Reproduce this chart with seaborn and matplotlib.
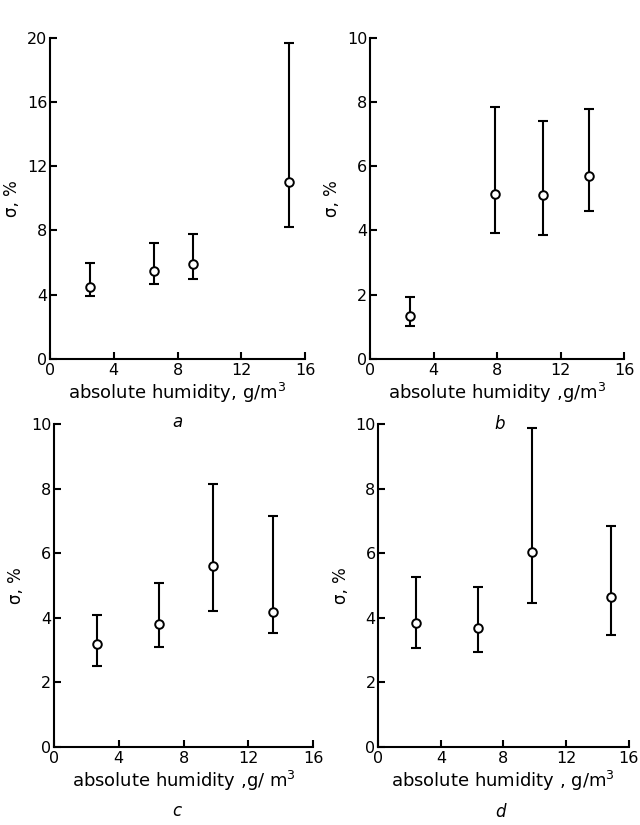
import matplotlib
matplotlib.use("Agg")
import matplotlib.pyplot as plt
import seaborn as sns
import numpy as np
import pandas as pd

# Absolute humidity (g/m^3), sigma (%) with lower / upper bounds of the spread
a_x = [2.5, 6.5, 9.0, 15.0]
a_y = [4.5, 5.5, 5.9, 11.0]
a_lo = [3.9, 4.65, 5.0, 8.2]
a_hi = [6.0, 7.2, 7.8, 19.7]

b_x = [2.55, 7.9, 10.9, 13.8]
b_y = [1.35, 5.15, 5.1, 5.7]
b_lo = [1.02, 3.92, 3.87, 4.6]
b_hi = [1.93, 7.85, 7.42, 7.77]

c_x = [2.65, 6.5, 9.85, 13.5]
c_y = [3.2, 3.8, 5.6, 4.17]
c_lo = [2.5, 3.1, 4.2, 3.54]
c_hi = [4.07, 5.09, 8.15, 7.15]

d_x = [2.4, 6.35, 9.8, 14.85]
d_y = [3.85, 3.67, 6.03, 4.65]
d_lo = [3.05, 2.95, 4.45, 3.47]
d_hi = [5.25, 4.94, 9.87, 6.85]

panel_letters = ["a", "b", "c", "d"]
x_ticks = [0, 4, 8, 12, 16]
y_ticks_a = [0, 4, 8, 12, 16, 20]
y_ticks_bcd = [0, 2, 4, 6, 8, 10]
xlabels = ["absolute humidity, g/m$^3$", "absolute humidity ,g/m$^3$",
           "absolute humidity ,g/ m$^3$", "absolute humidity , g/m$^3$"]
ylabel = "σ, %"

sns.set_theme(style="ticks")
plt.rcParams["font.family"] = ["DejaVu Sans"]
plt.rcParams["text.color"] = "black"

fig = plt.figure(figsize=(6.4, 8.25), dpi=100)
W, H = 640, 825
boxes = [  # left, top, right, bottom in pixels
    (50, 37.7, 305, 359),
    (370, 37.7, 624, 359),
    (54, 424.3, 313, 746.7),
    (378.3, 424.3, 628.5, 746.7),
]
letter_pos = [(177, 422), (500, 424), (177, 811), (500, 812)]

panels = [
    (a_x, a_y, a_lo, a_hi, y_ticks_a),
    (b_x, b_y, b_lo, b_hi, y_ticks_bcd),
    (c_x, c_y, c_lo, c_hi, y_ticks_bcd),
    (d_x, d_y, d_lo, d_hi, y_ticks_bcd),
]

for i, ((xs, ys, lo, hi, yt), (l, t, r, b)) in enumerate(zip(panels, boxes)):
    ax = fig.add_axes([l / W, 1 - b / H, (r - l) / W, (b - t) / H])
    df = pd.DataFrame({"h": xs, "s": ys, "lo": lo, "hi": hi})
    yerr = np.vstack([df["s"] - df["lo"], df["hi"] - df["s"]])
    ax.errorbar(df["h"], df["s"], yerr=yerr, fmt="none", ecolor="black",
                elinewidth=1.5, capsize=3.5, capthick=1.5, zorder=2)
    sns.scatterplot(data=df, x="h", y="s", ax=ax, marker="o", s=38,
                    facecolor="white", edgecolor="black", linewidth=1.4,
                    zorder=3, clip_on=False)
    ax.set_xlim(0, 16)
    ax.set_ylim(0, yt[-1])
    ax.set_xticks(x_ticks)
    ax.set_yticks(yt)
    ax.set_xticklabels([str(v) for v in x_ticks])
    ax.set_yticklabels([str(v) for v in yt])
    sns.despine(ax=ax)
    for s in ("left", "bottom"):
        ax.spines[s].set_linewidth(1.5)
        ax.spines[s].set_color("black")
    ax.tick_params(direction="in", length=5, width=1.5, color="black",
                   labelsize=11.5, labelcolor="black")
    ax.tick_params(axis="y", pad=2)
    ax.tick_params(axis="x", pad=3)
    ax.set_xlabel(xlabels[i], fontsize=13, color="black", labelpad=2)
    ax.set_ylabel(ylabel, fontsize=12, color="black", labelpad=4)
    ax.set_facecolor("white")
    fig.text(letter_pos[i][0] / W, 1 - letter_pos[i][1] / H, panel_letters[i],
             fontsize=12, style="italic", ha="center", va="center",
             color="black")

fig.savefig("out.png", dpi=100, facecolor="white")
